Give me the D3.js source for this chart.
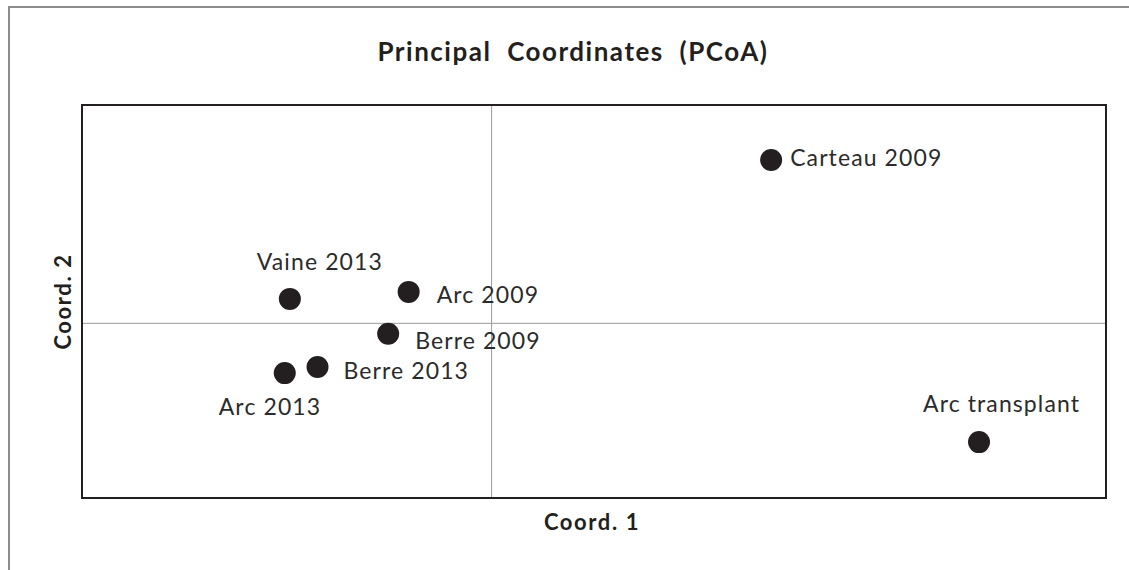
<!DOCTYPE html>
<html>
<head>
<meta charset="utf-8">
<script src="https://cdn.jsdelivr.net/npm/d3@7"></script>
<style>
  body { margin: 0; background: #fff; }
  svg { display: block; font-family: Lato, "Open Sans", sans-serif; }
</style>
</head>
<body>
<svg id="chart" width="1129" height="570"></svg>
<script>
const sites = ["Vaine 2013", "Arc 2009", "Berre 2009", "Berre 2013", "Arc 2013", "Carteau 2009", "Arc transplant"];
const coord1 = [-0.197, -0.081, -0.101, -0.170, -0.202, 0.273, 0.476];
const coord2 = [0.028, 0.036, -0.012, -0.050, -0.057, 0.187, -0.136];

// where each label sits relative to its dot
const labelOffsets = [[-33, -29], [28, 11], [27, 15], [26, 12], [-66, 42], [19, 6], [-56, -30]];

const width = 1129, height = 570;
const box = { left: 82, top: 105, right: 1106, bottom: 498 };

const svg = d3.select("#chart");

const x = d3.scaleLinear().domain([-0.4, 0.6]).range([box.left, box.right]);
const y = d3.scaleLinear().domain([-0.2, 0.25]).range([box.bottom, box.top]);

// outer frame (only top and left edges show)
svg.append("path")
  .attr("d", `M9,${height} V7 H${width}`)
  .attr("fill", "none")
  .attr("stroke", "#8c8c8c")
  .attr("stroke-width", 2);

svg.append("text")
  .attr("x", 573)
  .attr("y", 61)
  .attr("text-anchor", "middle")
  .attr("font-size", 26)
  .attr("font-weight", "bold")
  .attr("letter-spacing", 1.5)
  .attr("word-spacing", 8)
  .attr("fill", "#231f20")
  .text("Principal Coordinates (PCoA)");

// zero lines
svg.append("line")
  .attr("x1", x(0)).attr("x2", x(0))
  .attr("y1", box.top).attr("y2", box.bottom)
  .attr("stroke", "#9a9a9a").attr("stroke-width", 1);

svg.append("line")
  .attr("x1", box.left).attr("x2", box.right)
  .attr("y1", y(0)).attr("y2", y(0))
  .attr("stroke", "#9a9a9a").attr("stroke-width", 1);

svg.append("rect")
  .attr("x", box.left)
  .attr("y", box.top)
  .attr("width", box.right - box.left)
  .attr("height", box.bottom - box.top)
  .attr("fill", "none")
  .attr("stroke", "#231f20")
  .attr("stroke-width", 2);

const pts = svg.append("g")
  .selectAll("g")
  .data(sites)
  .join("g");

pts.append("circle")
  .attr("cx", (d, i) => x(coord1[i]))
  .attr("cy", (d, i) => y(coord2[i]))
  .attr("r", 11)
  .attr("fill", "#231f20");

pts.append("text")
  .attr("x", (d, i) => x(coord1[i]) + labelOffsets[i][0])
  .attr("y", (d, i) => y(coord2[i]) + labelOffsets[i][1])
  .attr("font-size", 23)
  .attr("letter-spacing", 1.1)
  .attr("fill", "#2b2b2b")
  .text(d => d);

svg.append("text")
  .attr("x", 592)
  .attr("y", 530)
  .attr("text-anchor", "middle")
  .attr("font-size", 22)
  .attr("font-weight", "bold")
  .attr("letter-spacing", 1.6)
  .attr("fill", "#231f20")
  .text("Coord. 1");

svg.append("text")
  .attr("transform", `translate(71,${(box.top + box.bottom) / 2}) rotate(-90)`)
  .attr("text-anchor", "middle")
  .attr("font-size", 22)
  .attr("font-weight", "bold")
  .attr("letter-spacing", 1.6)
  .attr("fill", "#231f20")
  .text("Coord. 2");
</script>
</body>
</html>
